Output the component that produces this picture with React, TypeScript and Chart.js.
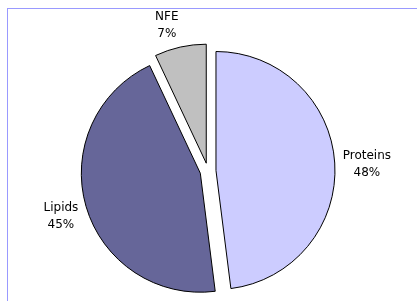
import React, { useEffect, useRef } from "react";
import { Chart, registerables } from "chart.js";

Chart.register(...registerables);

const categories = ["Proteins", "Lipids", "NFE"];
const values = [48, 45, 7];
const sliceColors = ["#CCCCFF", "#666699", "#C0C0C0"];

const EXPLODE = 8;
const RADIUS = 119;
const LABEL_GAP = 8;
const LINE_H = 17;
const FONT = "12px 'DejaVu Sans', Verdana, sans-serif";

const explodePlugin = {
  id: "explode",
  beforeDatasetDraw(chart: any, args: any) {
    const ctx = chart.ctx;
    args.meta.data.forEach((arc: any) => {
      const mid = (arc.startAngle + arc.endAngle) / 2;
      ctx.save();
      ctx.translate(Math.cos(mid) * EXPLODE, Math.sin(mid) * EXPLODE);
      arc.draw(ctx);
      ctx.restore();
    });
    return false;
  },
  afterDatasetsDraw(chart: any) {
    const ctx = chart.ctx;
    const meta = chart.getDatasetMeta(0);
    const total = values.reduce((a, b) => a + b, 0);
    ctx.save();
    ctx.font = FONT;
    ctx.fillStyle = "#000000";
    ctx.textAlign = "center";
    ctx.textBaseline = "alphabetic";
    meta.data.forEach((arc: any, i: number) => {
      const mid = (arc.startAngle + arc.endAngle) / 2;
      const c = Math.cos(mid);
      const s = Math.sin(mid);
      const d = arc.outerRadius + EXPLODE + LABEL_GAP;
      const px = arc.x + c * d;
      const py = arc.y + s * d;
      const lines = [categories[i], Math.round((values[i] / total) * 100) + "%"];
      const w = Math.max(...lines.map((l) => ctx.measureText(l).width));
      const h = LINE_H * lines.length;
      const cx = px + (Math.sign(c) * w) / 2;
      const cy = py + (s * h) / 2;
      const first = cy - 2.5;
      lines.forEach((l, k) => {
        ctx.fillText(l, cx, first + LINE_H * k);
      });
    });
    ctx.restore();
  },
  afterDraw(chart: any) {
    const ctx = chart.ctx;
    ctx.save();
    ctx.fillStyle = "#9999FF";
    ctx.fillRect(7, 8, chart.width - 7, 1);
    ctx.fillRect(7, 8, 1, chart.height - 8);
    ctx.restore();
  },
};

export default function App() {
  const ref = useRef<HTMLCanvasElement | null>(null);
  useEffect(() => {
    if (!ref.current) return;
    const chart = new Chart(ref.current, {
      type: "pie",
      data: {
        labels: categories,
        datasets: [
          {
            data: values,
            backgroundColor: sliceColors,
            borderColor: "#000000",
            borderWidth: 1,
            radius: RADIUS,
          } as any,
        ],
      },
      options: {
        responsive: false,
        animation: false,
        devicePixelRatio: 1,
        layout: { padding: { left: 0, right: 1, top: 41, bottom: 0 } },
        plugins: {
          legend: { display: false },
          tooltip: { enabled: false },
        },
      },
      plugins: [explodePlugin],
    });
    return () => chart.destroy();
  }, []);
  return (
    <div style={{ position: "absolute", left: 0, top: 0, width: 417, height: 301, background: "#ffffff" }}>
      <canvas ref={ref} width={417} height={301} style={{ width: 417, height: 301 }} />
    </div>
  );
}
